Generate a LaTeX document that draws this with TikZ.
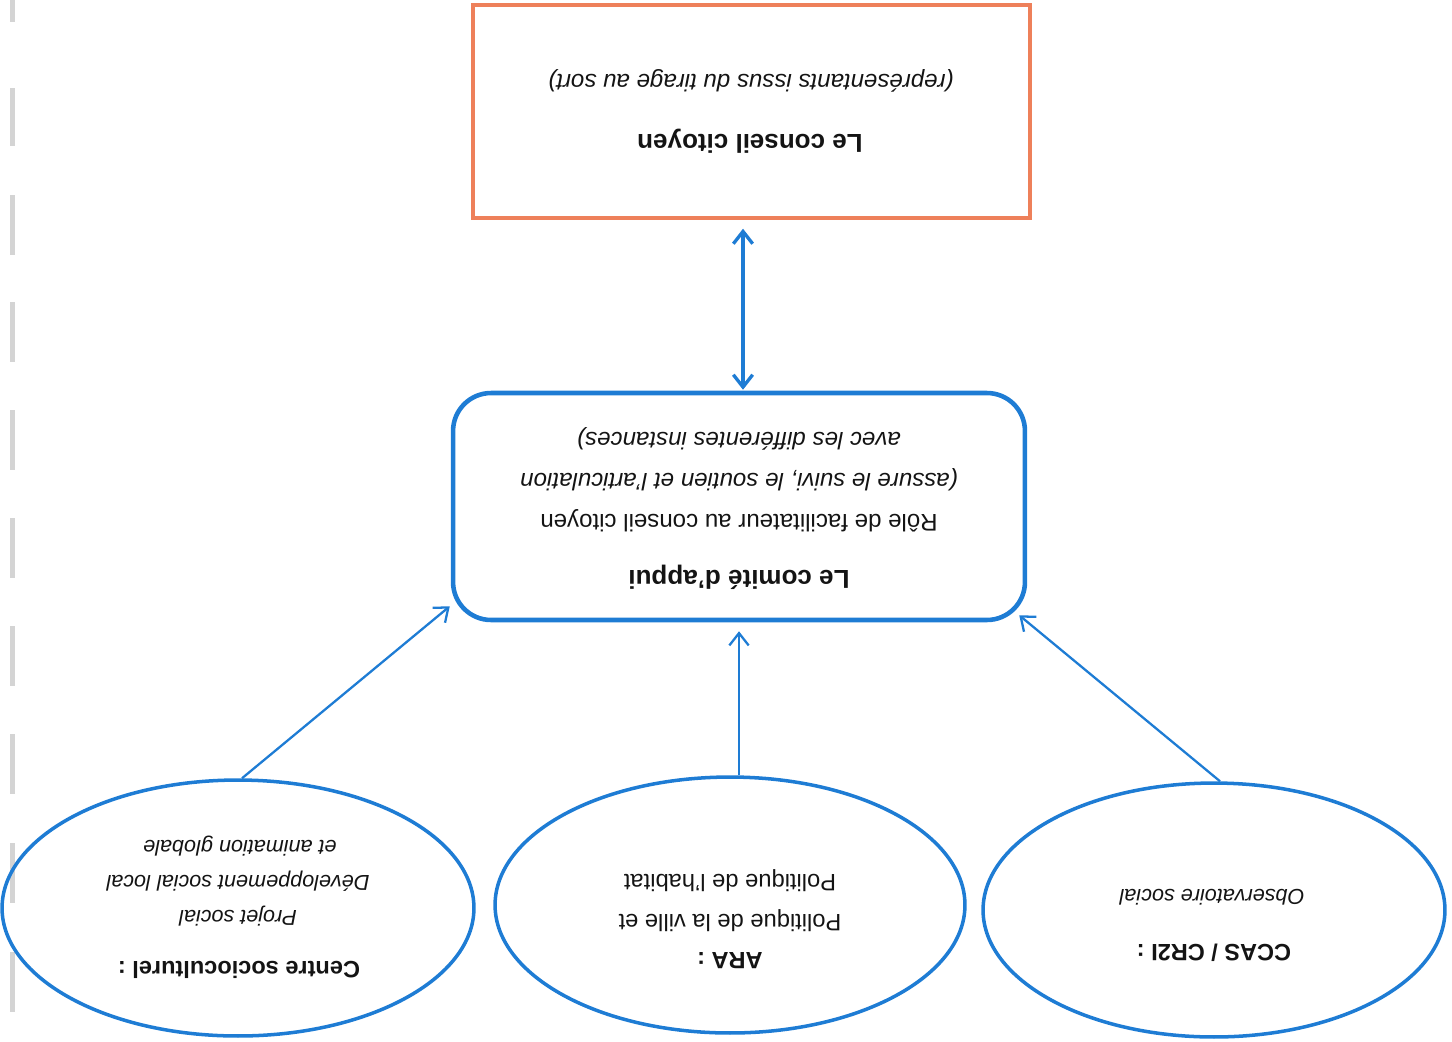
\documentclass[tikz,border=0pt]{standalone}
\usepackage{fontspec}
\setmainfont{Liberation Sans}
\usetikzlibrary{arrows.meta,calc,shapes.geometric}
\definecolor{cblue}{RGB}{30,124,212}
\definecolor{corange}{RGB}{238,128,90}
\definecolor{ctext}{RGB}{20,20,20}
\definecolor{cbinder}{RGB}{212,212,212}
\begin{document}
\begin{tikzpicture}[x=0.02cm,y=-0.02cm,
  txt/.style={rotate=180, inner sep=0pt, text=ctext},
  bigbold/.style={txt, font=\fontsize{14.8}{17}\selectfont\bfseries},
  bigreg/.style={txt, font=\fontsize{13.7}{16}\selectfont},
  bigit/.style={txt, font=\fontsize{13.7}{16}\selectfont\itshape},
  elbold/.style={txt, font=\fontsize{13.4}{16}\selectfont\bfseries},
  elreg/.style={txt, font=\fontsize{13.5}{16}\selectfont},
  elit/.style={txt, font=\fontsize{12.3}{15}\selectfont\itshape},
  ovalbox/.style={draw=cblue, line width=2pt, ellipse, inner sep=0pt, minimum height=5.12cm},
  thinarrow/.style={draw=cblue, line width=1.3pt, -{Straight Barb[length=7pt,width=11pt,line width=1.3pt]}},
  dblarrow/.style={draw=cblue, line width=1.9pt, {Straight Barb[length=7pt,width=11pt,line width=1.9pt]}-{Straight Barb[length=7pt,width=11pt,line width=1.9pt]}}
]
\useasboundingbox (0,0) rectangle (1452,1041);
% binder marks
\foreach \ya/\yb in {0/22, 88/146, 195/255, 302/362, 410/470, 518/578, 626/686, 734/794, 843/903, 952/1012}
  \fill[cbinder] (10,\ya) rectangle (15,\yb);
% shapes
\node[draw=corange, line width=2pt, rectangle, inner sep=0pt, minimum width=11.14cm, minimum height=4.26cm] (orange) at (751.5,111.5) {};
\node[draw=cblue, line width=2.6pt, rectangle, rounded corners=0.76cm, inner sep=0pt, minimum width=11.44cm, minimum height=4.54cm] (box) at (739,506.5) {};
\node[ovalbox, minimum width=9.44cm] (e1) at (238,908) {};
\node[ovalbox, minimum width=9.4cm] (e2) at (730,905) {};
\node[ovalbox, minimum width=9.24cm, minimum height=5.08cm] (e3) at (1214,910) {};
% connectors
\draw[dblarrow] ($(orange.south)+(-8.5,9)$) -- ($(box.north -| orange.south)+(-8.5,-1)$);
\draw[thinarrow] ($(e1.north)+(4,0)$) -- ($(box.south west)+(-1,-16)$);
\draw[thinarrow] (e2.north -| box.south) -- ($(box.south)+(0,9)$);
\draw[thinarrow] ($(e3.north)+(6,0)$) -- ($(box.south east)+(-8,-7)$);
% texts: conseil citoyen
\node[bigit] (t1) at (751,81) {(représentants issus du tirage au sort)};
\node[bigbold] (t2) at (750,141) {Le conseil citoyen};
% comite d'appui
\node[bigit] (t3) at (739,439) {avec les différentes instances)};
\node[bigit] (t4) at (739,480) {(assure le suivi,  le soutien et l’articulation};
\node[bigreg] (t5) at (739,521) {Rôle de facilitateur au conseil citoyen};
\node[bigbold] (t6) at (739,577) {Le comité d’appui};
% left ellipse
\node[elit] (t7) at (240,846) {et animation globale};
\node[elit] (t8) at (238,881) {Développement social local};
\node[elit] (t9) at (238,916) {Projet social};
\node[elbold] (t10) at (239,970) {Centre socioculturel :};
% middle ellipse
\node[elreg] (t11) at (730,881) {Politique de l’habitat};
\node[elreg] (t12) at (730,921) {Politique de la ville et};
\node[elbold] (t13) at (730,961) {ARA :};
% right ellipse
\node[elit] (t14) at (1212,897) {Observatoire social};
\node[elbold] (t15) at (1214,953) {CCAS / CR2I :};
\end{tikzpicture}
\end{document}
